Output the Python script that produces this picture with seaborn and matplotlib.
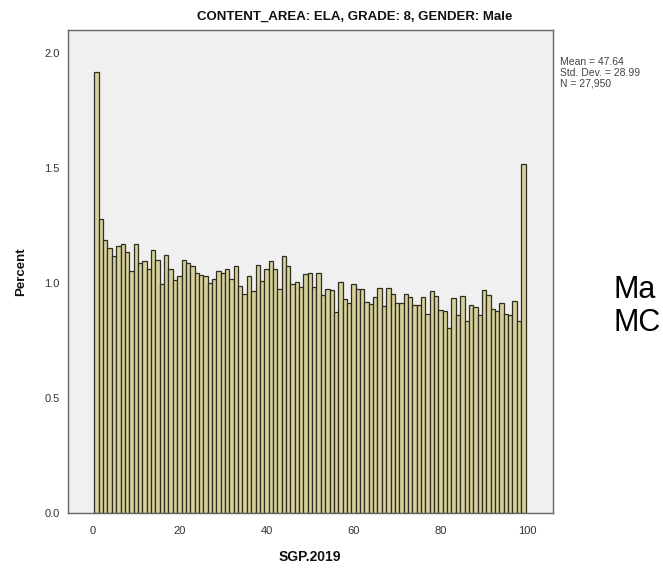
import numpy as np
import pandas as pd
import matplotlib.pyplot as plt
import seaborn as sns

# SGP scores 1..99 and percent of students at each score
sgp = list(range(1, 100))
pct = [
    1.92, 1.28, 1.19, 1.155, 1.12, 1.16, 1.17, 1.135, 1.055, 1.17,
    1.09, 1.095, 1.06, 1.145, 1.10, 0.995, 1.125, 1.06, 1.015, 1.03,
    1.10, 1.09, 1.075, 1.045, 1.035, 1.03, 1.00, 1.02, 1.055, 1.045,
    1.06, 1.02, 1.075, 0.99, 0.955, 1.03, 0.965, 1.08, 1.01, 1.06,
    1.095, 1.06, 0.975, 1.12, 1.075, 0.995, 1.005, 0.985, 1.04, 1.045,
    0.985, 1.045, 0.95, 0.975, 0.97, 0.875, 1.005, 0.93, 0.915, 0.995,
    0.975, 0.975, 0.92, 0.91, 0.94, 0.98, 0.90, 0.98, 0.955, 0.915,
    0.915, 0.955, 0.94, 0.905, 0.905, 0.94, 0.865, 0.965, 0.945, 0.885,
    0.88, 0.805, 0.935, 0.86, 0.945, 0.835, 0.905, 0.895, 0.86, 0.97,
    0.95, 0.89, 0.88, 0.915, 0.865, 0.86, 0.925, 0.835, 1.52,
]
x_ticks = [0, 20, 40, 60, 80, 100]
y_ticks = [0.0, 0.5, 1.0, 1.5, 2.0]
stats_lines = ["Mean = 47.64", "Std. Dev. = 28.99", "N = 27,950"]
title = "CONTENT_AREA: ELA, GRADE: 8, GENDER: Male"

df = pd.DataFrame({"SGP.2019": sgp, "Percent": pct})

sns.set_style("white", {"axes.facecolor": "#f0f0f0"})
plt.rcParams["font.family"] = ["Liberation Sans", "DejaVu Sans"]

fig = plt.figure(figsize=(6.63, 5.69), dpi=100)
ax = fig.add_axes([0.103, 0.0979, 0.731, 0.8494])

sns.histplot(
    data=df,
    x="SGP.2019",
    weights="Percent",
    discrete=True,
    color="#d6d09c",
    edgecolor="#2f2d20",
    linewidth=0.9,
    alpha=1,
    ax=ax
)

ax.set_xlim(-5.5, 105.8)
ax.set_ylim(0, 2.101)
ax.set_xticks(x_ticks)
ax.set_xticklabels([str(t) for t in x_ticks])
ax.set_yticks(y_ticks)
ax.set_yticklabels([f"{t:.1f}" for t in y_ticks])
ax.tick_params(axis="both", direction="out", length=4, width=0.8,
               color="#444444", labelcolor="#333333", labelsize=8, pad=2)
ax.tick_params(axis="x", pad=5)
ax.set_xlabel("")
ax.set_ylabel("")
for s in ax.spines.values():
    s.set_color("#666666")
    s.set_linewidth(1)

fig.text(355 / 663, 1 - 17 / 569, title, ha="center", va="center",
         fontsize=9.5, fontweight="bold", color="#111111")
fig.text(21 / 663, 1 - 272 / 569, "Percent", ha="center", va="center",
         rotation=90, fontsize=9.5, fontweight="bold", color="#111111")
fig.text(310 / 663, 1 - 557 / 569, "SGP.2019", ha="center", va="center",
         fontsize=10, fontweight="bold", color="#111111")

for i, line in enumerate(stats_lines):
    fig.text(560 / 663, 1 - (62 + 10.8 * i) / 569, line, ha="left",
             va="center", fontsize=7.5, color="#444444")

fig.text(613 / 663, 1 - 290 / 569, "Ma", ha="left", va="center",
         fontsize=22, color="#000000")
fig.text(613 / 663, 1 - 323 / 569, "MC", ha="left", va="center",
         fontsize=22, color="#000000")

fig.savefig("out.png", dpi=100)
